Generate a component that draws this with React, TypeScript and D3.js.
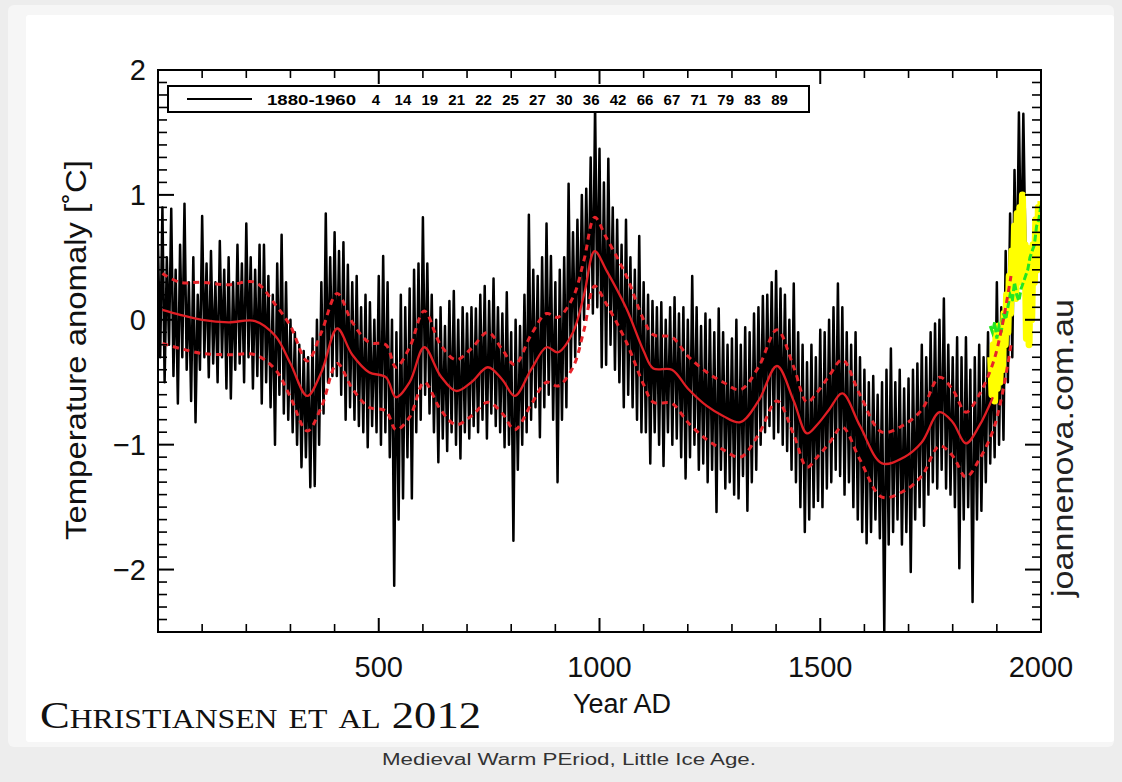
import React from 'react';
import * as d3 from 'd3';

// ---------- DATA ----------
// Annual-resolution reconstruction, sampled every 5 years from year 0 (alternating highs/lows of the noisy record)
const blackStartYear = 0;
const blackStepYears = 5;
const blackAnomaly = [
  0.6, -0.3, 0.9, -0.5, 0.5, -0.2, 0.89, -0.45, 0.4, -0.67,
  0.6, -0.3, 0.93, -0.4, 0.3, -0.65, 0.5, -0.82, 0.2, -0.4,
  0.83, -0.3, 0.45, -0.46, 0.55, -0.35, 0.3, -0.5, 0.63, -0.3,
  0.4, -0.55, 0.5, -0.63, 0.3, -0.4, 0.6, -0.35, 0.45, -0.5,
  0.77, -0.3, 0.5, -0.55, 0.4, -0.45, 0.6, -0.67, 0.6, -0.5,
  0.35, -0.7, 0.2, -1.0, 0.45, -0.6, 0.68, -0.75, 0.3, -0.8,
  0.0, -0.9, -0.1, -1.0, -0.2, -1.18, -0.25, -1.1, -0.3, -1.34,
  -0.15, -1.33, 0.0, -1.0, 0.3, -0.75, 0.85, -0.5, 0.5, -0.45,
  0.7, -0.45, 0.55, -0.6, 0.62, -0.8, 0.44, -0.7, 0.3, -0.8,
  0.35, -0.85, 0.1, -0.9, 0.2, -1.02, 0.14, -0.85, 0.0, -0.9,
  0.35, -1.0, 0.51, -0.9, 0.3, -1.1, 0.0, -2.13, -0.1, -1.6,
  0.2, -1.43, 0.1, -1.1, 0.25, -1.43, 0.4, -0.9, 0.45, -0.8,
  0.82, -0.6, 0.45, -0.75, 0.2, -0.9, 0.0, -1.14, 0.1, -0.95,
  -0.05, -1.05, 0.15, -0.9, 0.23, -1.0, 0.0, -1.11, 0.1, -0.9,
  0.05, -0.95, 0.1, -0.85, 0.09, -0.9, 0.2, -0.8, 0.27, -0.95,
  0.15, -0.75, 0.33, -0.85, 0.1, -0.9, 0.05, -1.02, 0.22, -1.0,
  -0.1, -1.77, 0.0, -1.2, -0.05, -1.0, 0.2, -0.9, 0.84, -0.8,
  0.4, -0.7, 0.35, -0.94, 0.5, -0.7, 0.77, -0.6, 0.51, -0.8,
  0.3, -1.3, 0.4, -0.8, 0.5, -0.7, 1.09, -0.4, 0.7, -0.3,
  0.8, -0.2, 1.0, 0.0, 1.05, 0.1, 1.3, 0.05, 1.73, 0.1,
  1.37, -0.38, 1.1, -0.36, 1.29, -0.2, 0.9, -0.4, 0.8, -0.5,
  0.6, -0.7, 0.8, -0.6, 0.5, -0.7, 0.4, -0.8, 0.67, -0.9,
  0.3, -0.9, 0.2, -1.15, 0.15, -0.9, 0.1, -1.0, 0.14, -1.17,
  0.0, -0.9, 0.1, -1.0, 0.18, -0.95, 0.05, -1.1, 0.1, -1.27,
  0.0, -1.1, 0.35, -1.0, 0.1, -1.2, -0.05, -1.15, 0.05, -1.3,
  0.0, -1.2, -0.1, -1.54, 0.09, -1.2, -0.1, -1.35, -0.2, -1.3,
  -0.15, -1.4, 0.0, -1.43, -0.2, -1.25, -0.06, -1.53, -0.1, -1.3,
  0.05, -1.2, 0.1, -1.0, 0.19, -0.9, 0.2, -0.85, 0.3, -0.95,
  0.39, -0.9, 0.25, -1.0, 0.2, -1.05, 0.0, -1.2, 0.29, -1.3,
  -0.1, -1.5, -0.2, -1.7, -0.34, -1.6, -0.2, -1.5, -0.3, -1.45,
  -0.08, -1.5, -0.1, -1.35, 0.0, -1.3, 0.1, -1.2, 0.29, -1.25,
  0.1, -1.4, -0.1, -1.3, -0.2, -1.5, -0.1, -1.6, -0.3, -1.7,
  -0.4, -1.79, -0.5, -1.7, -0.45, -1.6, -0.6, -1.75, -0.5, -2.5,
  -0.4, -1.8, -0.23, -1.7, -0.5, -1.6, -0.4, -1.8, -0.55, -1.7,
  -0.47, -2.02, -0.4, -1.6, -0.35, -1.5, -0.2, -1.65, -0.3, -1.4,
  -0.1, -1.3, -0.03, -1.35, 0.0, -1.2, 0.17, -1.35, -0.2, -1.4,
  -0.3, -1.5, -0.14, -1.99, -0.3, -1.6, -0.14, -1.5, -0.4, -2.26,
  -0.3, -1.6, -0.2, -1.53, -0.3, -1.3, -0.1, -1.15, -0.2, -1.1,
  0.3, -1.0, 0.1, -0.96, 0.55, -0.5, 0.85, -0.3, 1.2, 0.2,
  1.66, 0.4, 1.65, 0.5, 0.6,
];

// Low-pass filtered curve (solid red)
const smoothYears = [
  10, 50, 100, 160, 220, 266, 300, 338, 370, 406, 440, 478, 516, 539, 570, 603, 640, 675,
  710, 747, 780, 808, 845, 880, 906, 940, 965, 989, 1015, 1061, 1100, 1122, 1164, 1200,
  1243, 1280, 1319, 1360, 1402, 1440, 1470, 1493, 1520, 1550, 1590, 1640, 1690, 1730,
  1770, 1800, 1830, 1860, 1891,
];
const smoothAnomaly = [
  0.08, 0.04, 0.0, -0.02, -0.01, -0.13, -0.35, -0.61, -0.42, -0.07, -0.28, -0.42, -0.46,
  -0.62, -0.5, -0.22, -0.45, -0.57, -0.5, -0.38, -0.48, -0.61, -0.4, -0.22, -0.26, -0.1,
  0.2, 0.55, 0.4, 0.09, -0.25, -0.39, -0.4, -0.55, -0.69, -0.77, -0.82, -0.65, -0.37,
  -0.65, -0.91, -0.84, -0.72, -0.59, -0.85, -1.15, -1.1, -0.98, -0.74, -0.82, -0.99,
  -0.85, -0.62,
];

// Confidence band (dashed red)
const bandYears = [
  10, 50, 100, 160, 220, 266, 300, 338, 370, 406, 440, 478, 516, 539, 570, 603, 640, 675,
  710, 747, 780, 808, 845, 880, 906, 940, 965, 989, 1015, 1061, 1100, 1122, 1164, 1200,
  1243, 1280, 1319, 1360, 1402, 1440, 1470, 1493, 1520, 1550, 1590, 1640, 1690, 1730,
  1770, 1800, 1830, 1860, 1891, 1912, 1932,
];
const upperBand = [
  0.37, 0.3, 0.3, 0.28, 0.3, 0.12, -0.05, -0.33, -0.1, 0.21, -0.02, -0.18, -0.2, -0.38,
  -0.22, 0.07, -0.2, -0.32, -0.23, -0.1, -0.24, -0.36, -0.12, 0.05, 0.02, 0.18, 0.48,
  0.82, 0.66, 0.35, 0.0, -0.12, -0.14, -0.29, -0.42, -0.5, -0.56, -0.38, -0.08, -0.38,
  -0.66, -0.58, -0.45, -0.32, -0.6, -0.9, -0.84, -0.72, -0.46, -0.56, -0.74, -0.6, -0.35,
  -0.05, 0.35,
];
const lowerBand = [
  -0.19, -0.23, -0.27, -0.28, -0.28, -0.4, -0.62, -0.89, -0.7, -0.35, -0.55, -0.7, -0.73,
  -0.88, -0.78, -0.5, -0.72, -0.84, -0.77, -0.66, -0.75, -0.88, -0.68, -0.5, -0.53, -0.38,
  -0.08, 0.27, 0.13, -0.18, -0.52, -0.66, -0.67, -0.82, -0.96, -1.04, -1.1, -0.92, -0.65,
  -0.92, -1.18, -1.1, -0.99, -0.86, -1.12, -1.42, -1.37, -1.25, -1.01, -1.09, -1.26,
  -1.12, -0.89, -0.6, -0.2,
];

// Instrumental records
const yellowStartYear = 1886;
const yellowStepYears = 3;
const yellowAnomaly = [
  -0.3, -0.6, -0.2, -0.65, -0.1, -0.55, -0.05, -0.5, -0.1, -0.4, 0.05, -0.2, 0.2, -0.1,
  0.35, 0.05, 0.55, 0.2, 0.75, 0.17, 0.85, 0.3, 0.9, 0.45, 1.0, 0.4, 0.6, -0.15, 0.4,
  -0.2, 0.57, 0.0, 0.6, 0.3, 0.8, 0.4, 0.9, 0.5, 0.95,
];
const greenStartYear = 1885;
const greenStepYears = 5;
const greenAnomaly = [
  -0.05, -0.1, -0.02, -0.15, -0.05, -0.1, 0.05, 0.0, 0.1, 0.2, 0.15, 0.3, 0.2, 0.15,
  0.25, 0.3, 0.35, 0.4, 0.5, 0.55, 0.6, 0.75, 0.8, 0.92,
];

const xMajorTicks = [500, 1000, 1500, 2000];
const yMajorTicks = [-2, -1, 0, 1, 2];
const legendTitle = '1880-1960';
const legendLabels = ['4', '14', '19', '21', '22', '25', '27', '30', '36', '42', '66', '67', '71', '79', '83', '89'];

// ---------- CHART ----------
const W = 1122;
const H = 782;
const left = 158;
const right = 1041;
const top = 70;
const bottom = 632;

const FONT = "'Liberation Sans', Arial, Helvetica, sans-serif";

export default function App() {
  const x = d3.scaleLinear().domain([0, 2000]).range([left, right]);
  const y = d3.scaleLinear().domain([-2.5, 2]).range([bottom, top]);

  const blackPts: [number, number][] = blackAnomaly.map((v, i) => [blackStartYear + i * blackStepYears, v]);
  const yellowPts: [number, number][] = yellowAnomaly.map((v, i) => [yellowStartYear + i * yellowStepYears, v]);
  const greenPts: [number, number][] = greenAnomaly.map((v, i) => [greenStartYear + i * greenStepYears, v]);
  const smoothPts: [number, number][] = smoothYears.map((yr, i) => [yr, smoothAnomaly[i]]);
  const upperPts: [number, number][] = bandYears.map((yr, i) => [yr, upperBand[i]]);
  const lowerPts: [number, number][] = bandYears.map((yr, i) => [yr, lowerBand[i]]);

  const straight = d3.line<[number, number]>().x((d) => x(d[0])).y((d) => y(d[1]));
  const smooth = d3
    .line<[number, number]>()
    .x((d) => x(d[0]))
    .y((d) => y(d[1]))
    .curve(d3.curveCatmullRom.alpha(0.5));

  const xMinor = d3.range(100, 2000, 100).filter((v) => v % 500 !== 0);
  const yMinor = d3.range(-24, 20, 1).map((v) => v / 10).filter((v) => Math.abs(v - Math.round(v)) > 1e-6);

  const legendX0 = 376;
  const legendDx = 26.9;

  return (
    <svg width={W} height={H} style={{ position: 'absolute', left: 0, top: 0, display: 'block' }}>
      <defs>
        <clipPath id="plotClip">
          <rect x={left} y={top} width={right - left} height={bottom - top} />
        </clipPath>
      </defs>
      {/* page background */}
      <rect x={0} y={0} width={W} height={H} fill="#ededed" />
      <rect x={8} y={5} width={1106} height={742} rx={6} fill="#f6f6f6" />
      <rect x={26} y={15} width={1088} height={727} rx={3} fill="#ffffff" />

      {/* data */}
      <g clipPath="url(#plotClip)">
        <path d={straight(blackPts) || ''} fill="none" stroke="#000" strokeWidth={2.5} strokeLinejoin="round" />
        <path d={straight(yellowPts) || ''} fill="none" stroke="#ffff00" strokeWidth={7} strokeLinejoin="round" />
        <path d={straight(greenPts) || ''} fill="none" stroke="#22e622" strokeWidth={3} strokeDasharray="7,3" />
        <path d={smooth(upperPts) || ''} fill="none" stroke="#e8232a" strokeWidth={3} strokeDasharray="6,5" />
        <path d={smooth(lowerPts) || ''} fill="none" stroke="#e8232a" strokeWidth={3} strokeDasharray="6,5" />
        <path d={smooth(smoothPts) || ''} fill="none" stroke="#e01e24" strokeWidth={2.3} />
      </g>

      {/* axes box */}
      <rect x={left} y={top} width={right - left} height={bottom - top} fill="none" stroke="#000" strokeWidth={2} />

      {/* x ticks, bottom and top */}
      {xMajorTicks.map((v) => (
        <g key={'xM' + v}>
          <line x1={x(v)} x2={x(v)} y1={bottom} y2={bottom - 14} stroke="#000" strokeWidth={2} />
          <line x1={x(v)} x2={x(v)} y1={top} y2={top + 14} stroke="#000" strokeWidth={2} />
          <text x={x(v)} y={677} textAnchor="middle" fontFamily={FONT} fontSize={29} fill="#111">
            {v}
          </text>
        </g>
      ))}
      {xMinor.map((v) => (
        <g key={'xm' + v}>
          <line x1={x(v)} x2={x(v)} y1={bottom} y2={bottom - 8} stroke="#000" strokeWidth={1.6} />
          <line x1={x(v)} x2={x(v)} y1={top} y2={top + 8} stroke="#000" strokeWidth={1.6} />
        </g>
      ))}

      {/* y ticks, left and right */}
      {yMajorTicks.map((v) => (
        <g key={'yM' + v}>
          <line x1={left} x2={left + 16} y1={y(v)} y2={y(v)} stroke="#000" strokeWidth={2} />
          <line x1={right} x2={right - 16} y1={y(v)} y2={y(v)} stroke="#000" strokeWidth={2} />
          <text x={146} y={y(v) + 10} textAnchor="end" fontFamily={FONT} fontSize={29} fill="#111">
            {v < 0 ? '\u2212' + Math.abs(v) : String(v)}
          </text>
        </g>
      ))}
      {yMinor.map((v) => (
        <g key={'ym' + v}>
          <line x1={left} x2={left + 9} y1={y(v)} y2={y(v)} stroke="#000" strokeWidth={1.6} />
          <line x1={right} x2={right - 9} y1={y(v)} y2={y(v)} stroke="#000" strokeWidth={1.6} />
        </g>
      ))}

      {/* legend */}
      <rect x={168} y={86} width={641} height={26} fill="#fff" stroke="#000" strokeWidth={2} />
      <line x1={187} x2={252} y1={99} y2={99} stroke="#000" strokeWidth={2} />
      <text x={267} y={105} fontFamily={FONT} fontSize={15} fontWeight={600} textLength={89} lengthAdjust="spacingAndGlyphs">
        {legendTitle}
      </text>
      {legendLabels.map((lab, i) => (
        <text key={lab} x={legendX0 + i * legendDx} y={105} textAnchor="middle" fontFamily={FONT} fontSize={15} fontWeight={600}>
          {lab}
        </text>
      ))}

      {/* axis titles */}
      <text
        transform={`translate(86,350) rotate(-90)`}
        textAnchor="middle"
        fontFamily={FONT}
        fontSize={29}
        fill="#111"
        textLength={380}
        lengthAdjust="spacingAndGlyphs"
      >
        Temperature anomaly [˚C]
      </text>
      <text x={622} y={713} textAnchor="middle" fontFamily={FONT} fontSize={27} fill="#111">
        Year AD
      </text>

      {/* watermark */}
      <text
        transform={`translate(1073,448) rotate(-90)`}
        textAnchor="middle"
        fontFamily={FONT}
        fontSize={29}
        fill="#222"
        textLength={298}
        lengthAdjust="spacingAndGlyphs"
      >
        joannenova.com.au
      </text>

      {/* source */}
      <text
        x={40}
        y={728}
        fontFamily="'Liberation Serif', 'DejaVu Serif', serif"
        fontSize={38}
        fontVariant="small-caps"
        fill="#111"
        textLength={441}
        lengthAdjust="spacingAndGlyphs"
      >
        Christiansen et al 2012
      </text>

      {/* caption */}
      <text
        x={569}
        y={765}
        textAnchor="middle"
        fontFamily={FONT}
        fontSize={16}
        fill="#333"
        textLength={374}
        lengthAdjust="spacingAndGlyphs"
      >
        Medieval Warm PEriod, Little Ice Age.
      </text>
    </svg>
  );
}
